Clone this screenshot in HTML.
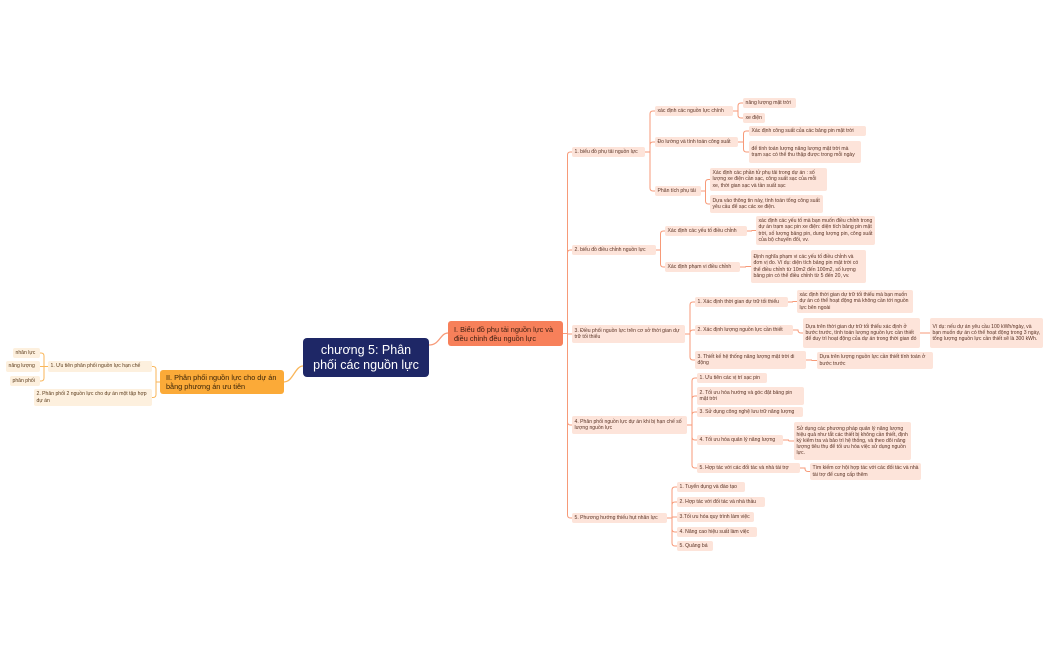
<!DOCTYPE html>
<html><head><meta charset="utf-8">
<style>
html,body{margin:0;padding:0;background:#fff;width:1050px;height:650px;overflow:hidden}
body{position:relative;font-family:"Liberation Sans","Noto Sans CJK SC",sans-serif}
.n{position:absolute;box-sizing:border-box;font-size:5.1px;line-height:6.1px;color:#5a3325;background:#fde4da;border-radius:2px;padding:2px 2.5px;display:flex;align-items:center}
.l{background:#fdf0de;color:#5a3a1a}
.c{background:#1e2766;color:#fff;font-size:12.5px;line-height:15px;border-radius:4px;justify-content:center;text-align:center;padding:0 6px}
.o{background:#f7805a;color:#3a1c10;font-size:7.3px;line-height:9px;border-radius:3px;padding:2px 6px}
.y{background:#fbaa38;color:#3a2408;font-size:7.3px;line-height:9px;border-radius:3px;padding:2px 6px}
svg{position:absolute;left:0;top:0}
</style></head><body>
<svg width="1050" height="650" id="s"></svg>

<div class="n c" id="C" style="left:303px;top:338px;width:126px;height:39px">chương 5: Phân phối các nguồn lực</div>
<div class="n o" id="I" style="left:448px;top:321px;width:115px;height:25px">I. Biểu đồ phụ tải nguồn lực và điều chỉnh đều nguồn lực</div>
<div class="n y" id="II" style="left:160px;top:370px;width:124px;height:24px">II. Phân phối nguồn lực cho dự án bằng phương án ưu tiên</div>

<div class="n l" id="L1" style="left:48px;top:361px;width:104px;height:11px">1. Ưu tiên phân phối nguồn lực hạn chế</div>
<div class="n l" id="L2" style="left:34px;top:389px;width:118px;height:17px">2. Phân phối 2 nguồn lực cho dự án một tập hợp dự án</div>
<div class="n l" id="La" style="left:13px;top:348px;width:27px;height:10px">nhân lực</div>
<div class="n l" id="Lb" style="left:6px;top:361px;width:34px;height:11px">năng lượng</div>
<div class="n l" id="Lc" style="left:10px;top:376px;width:30px;height:10px">phân phối</div>

<div class="n" id="A1" style="left:572px;top:147px;width:73px;height:10px">1. biểu đồ phụ tải nguồn lực</div>
<div class="n" id="A2" style="left:572px;top:245px;width:84px;height:10px">2. biểu đồ điều chỉnh nguồn lực</div>
<div class="n" id="A3" style="left:572px;top:325px;width:113px;height:18px">3. Điều phối nguồn lực trên cơ sở thời gian dự trữ tối thiểu</div>
<div class="n" id="A4" style="left:572px;top:416px;width:115px;height:18px">4. Phân phối nguồn lực dự án khi bị hạn chế số lượng nguồn lực</div>
<div class="n" id="A5" style="left:572px;top:513px;width:95px;height:10px">5. Phương hướng thiếu hụt nhân lực</div>

<div class="n" id="B11" style="left:655px;top:106px;width:78px;height:10px">xác định các nguồn lực chính</div>
<div class="n" id="B12" style="left:655px;top:137px;width:83px;height:10px">Đo lường và tính toán công suất</div>
<div class="n" id="B13" style="left:655px;top:186px;width:46px;height:10px">Phân tích phụ tải</div>
<div class="n" id="D1" style="left:743px;top:98px;width:53px;height:10px">năng lượng mặt trời</div>
<div class="n" id="D2" style="left:743px;top:113px;width:22px;height:10px">xe điện</div>
<div class="n" id="D3" style="left:749px;top:126px;width:117px;height:10px">Xác định công suất của các bảng pin mặt trời</div>
<div class="n" id="D4" style="left:749px;top:141px;width:112px;height:22px">để tính toán lượng năng lượng mặt trời mà trạm sạc có thể thu thập được trong mỗi ngày</div>
<div class="n" id="D5" style="left:710px;top:168px;width:117px;height:23px">Xác định các phần tử phụ tải trong dự án : số lượng xe điện cần sạc, công suất sạc của mỗi xe, thời gian sạc và tần suất sạc</div>
<div class="n" id="D6" style="left:710px;top:195px;width:113px;height:18px">Dựa vào thông tin này, tính toán tổng công suất yêu cầu để sạc các xe điện.</div>

<div class="n" id="B21" style="left:665px;top:226px;width:82px;height:10px">Xác định các yếu tố điều chỉnh</div>
<div class="n" id="B22" style="left:665px;top:262px;width:75px;height:10px">Xác định phạm vi điều chỉnh</div>
<div class="n" id="D7" style="left:756px;top:216px;width:119px;height:29px">xác định các yếu tố mà bạn muốn điều chỉnh trong dự án trạm sạc pin xe điện: diện tích bảng pin mặt trời, số lượng bảng pin, dung lượng pin, công suất của bộ chuyển đổi, vv.</div>
<div class="n" id="D8" style="left:751px;top:250px;width:115px;height:33px">Định nghĩa phạm vi các yếu tố điều chỉnh và đơn vị đo. Ví dụ: diện tích bảng pin mặt trời có thể điều chỉnh từ 10m2 đến 100m2, số lượng bảng pin có thể điều chỉnh từ 5 đến 20, vv.</div>

<div class="n" id="B31" style="left:695px;top:297px;width:93px;height:10px">1. Xác định thời gian dự trữ tối thiểu</div>
<div class="n" id="B32" style="left:695px;top:325px;width:98px;height:10px">2. Xác định lượng nguồn lực cần thiết</div>
<div class="n" id="B33" style="left:695px;top:351px;width:111px;height:18px">3. Thiết kế hệ thống năng lượng mặt trời di động</div>
<div class="n" id="D9" style="left:797px;top:290px;width:116px;height:23px">xác định thời gian dự trữ tối thiểu mà bạn muốn dự án có thể hoạt động mà không cần tới nguồn lực bên ngoài</div>
<div class="n" id="D10" style="left:803px;top:318px;width:117px;height:30px">Dựa trên thời gian dự trữ tối thiểu xác định ở bước trước, tính toán lượng nguồn lực cần thiết để duy trì hoạt động của dự án trong thời gian đó</div>
<div class="n" id="D11" style="left:930px;top:318px;width:113px;height:30px">Ví dụ: nếu dự án yêu cầu 100 kWh/ngày, và bạn muốn dự án có thể hoạt động trong 3 ngày, tổng lượng nguồn lực cần thiết sẽ là 300 kWh.</div>
<div class="n" id="D12" style="left:817px;top:352px;width:116px;height:17px">Dựa trên lượng nguồn lực cần thiết tính toán ở bước trước</div>

<div class="n" id="B41" style="left:697px;top:373px;width:70px;height:10px">1. Ưu tiên các vị trí sạc pin</div>
<div class="n" id="B42" style="left:697px;top:387px;width:107px;height:18px">2. Tối ưu hóa hướng và góc đặt bảng pin mặt trời</div>
<div class="n" id="B43" style="left:697px;top:407px;width:106px;height:10px">3. Sử dụng công nghệ lưu trữ năng lượng</div>
<div class="n" id="B44" style="left:697px;top:435px;width:86px;height:10px">4. Tối ưu hóa quản lý năng lượng</div>
<div class="n" id="B45" style="left:697px;top:463px;width:103px;height:10px">5. Hợp tác với các đối tác và nhà tài trợ</div>
<div class="n" id="D13" style="left:794px;top:422px;width:117px;height:38px">Sử dụng các phương pháp quản lý năng lượng hiệu quả như tắt các thiết bị không cần thiết, định kỳ kiểm tra và bảo trì hệ thống, và theo dõi năng lượng tiêu thụ để tối ưu hóa việc sử dụng nguồn lực.</div>
<div class="n" id="D14" style="left:810px;top:463px;width:111px;height:17px">Tìm kiếm cơ hội hợp tác với các đối tác và nhà tài trợ để cung cấp thêm</div>

<div class="n" id="B51" style="left:677px;top:482px;width:68px;height:10px">1. Tuyển dụng và đào tạo</div>
<div class="n" id="B52" style="left:677px;top:497px;width:88px;height:10px">2. Hợp tác với đối tác và nhà thầu</div>
<div class="n" id="B53" style="left:677px;top:512px;width:77px;height:10px">3.Tối ưu hóa quy trình làm việc</div>
<div class="n" id="B54" style="left:677px;top:527px;width:80px;height:10px">4. Nâng cao hiệu suất làm việc</div>
<div class="n" id="B55" style="left:677px;top:541px;width:36px;height:10px">5. Quảng bá</div>

<script>
document.querySelectorAll('.n').forEach(function(e){if(e.offsetHeight<=11){e.style.whiteSpace='nowrap';e.style.overflow='visible';}});
var s=document.getElementById('s'),ns='http://www.w3.org/2000/svg';
function b(id){var e=document.getElementById(id);return{l:e.offsetLeft,t:e.offsetTop,r:e.offsetLeft+e.offsetWidth,cy:e.offsetTop+e.offsetHeight/2};}
function p(d,c,w){var e=document.createElementNS(ns,'path');e.setAttribute('d',d);e.setAttribute('fill','none');e.setAttribute('stroke',c);e.setAttribute('stroke-width',w);s.appendChild(e);}
function tree(par,kids,c,side){var P=b(par);kids.forEach(function(k){var K=b(k);
 if(side>0){var px=P.r,py=P.cy,cx=K.l,cy=K.cy,sx=(px+cx)/2;}
 else{var px=P.l,py=P.cy,cx=K.r,cy=K.cy,sx=(px+cx)/2;}
 var r=Math.min(3,Math.abs(cy-py)),dy=cy>py?1:-1,dx=side;
 if(Math.abs(cy-py)<0.5){p('M'+px+' '+py+'H'+cx,c,1);return;}
 p('M'+px+' '+py+'H'+sx+'V'+(cy-dy*r)+'Q'+sx+' '+cy+' '+(sx+dx*r)+' '+cy+'H'+cx,c,1);});}
var oc='#f79a78',yc='#f9b65a';
p('M429 345C440 345 440 333 448 333',oc,1.3);
p('M303 366C295 366 293 382 284 382',yc,1.3);
tree('I',['A1','A2','A3','A4','A5'],oc,1);
tree('A1',['B11','B12','B13'],oc,1);
tree('B11',['D1','D2'],oc,1);
tree('B12',['D3','D4'],oc,1);
tree('B13',['D5','D6'],oc,1);
tree('A2',['B21','B22'],oc,1);
tree('B21',['D7'],oc,1);tree('B22',['D8'],oc,1);
tree('A3',['B31','B32','B33'],oc,1);
tree('B31',['D9'],oc,1);tree('B32',['D10'],oc,1);tree('D10',['D11'],oc,1);tree('B33',['D12'],oc,1);
tree('A4',['B41','B42','B43','B44','B45'],oc,1);
tree('B44',['D13'],oc,1);tree('B45',['D14'],oc,1);
tree('A5',['B51','B52','B53','B54','B55'],oc,1);
tree('II',['L1','L2'],yc,-1);
tree('L1',['La','Lb','Lc'],yc,-1);
</script>
</body></html>
